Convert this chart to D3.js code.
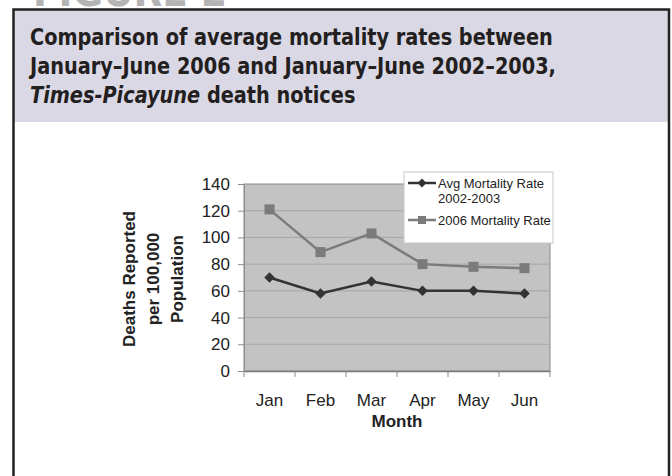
<!DOCTYPE html>
<html lang="en">
<head>
    <meta charset="UTF-8">
    <title>Figure 2: mortality rates</title>
    <script src="https://d3js.org/d3.v7.min.js"></script>
    <style>
        body { margin: 0; background: #fff; }
        text { font-family: "Liberation Sans", Arial, sans-serif; }
        .cond { font-family: "Liberation Sans Narrow", "DejaVu Sans Condensed", "Arial Narrow", sans-serif; }
    </style>
</head>
<body>
    <svg id="chart" width="672" height="476"></svg>
    <script>
        // data
        var months = ["Jan", "Feb", "Mar", "Apr", "May", "Jun"];
        var avgRate = [70, 58, 67, 60, 60, 58];      // Avg Mortality Rate 2002-2003
        var rate2006 = [121, 89, 103, 80, 78, 77];   // 2006 Mortality Rate
        var yTicks = [0, 20, 40, 60, 80, 100, 120, 140];
        var seriesNames = ["Avg Mortality Rate|2002-2003", "2006 Mortality Rate"];

        var svg = d3.select("#chart");
        svg.append("rect").attr("width", 672).attr("height", 476).attr("fill", "#fff");

        // faint "FIGURE 2" cut off at top
        var fig = svg.append("text").attr("class", "cond")
            .attr("x", 33).attr("y", 6)
            .attr("font-size", 40).attr("font-weight", "bold")
            .attr("fill", "#b4b4b4")
            .text("FIGURE 2");
        var fw = fig.node().getComputedTextLength();
        fig.attr("transform", "translate(33,0) scale(" + (194 / fw) + ",1) translate(-33,0)");

        // header panel + frame
        svg.append("rect").attr("x", 14).attr("y", 10).attr("width", 655).attr("height", 112)
            .attr("fill", "#dbd8e5");
        svg.append("path")
            .attr("d", "M13.5,476V9.5H669V476")
            .attr("fill", "none").attr("stroke", "#222").attr("stroke-width", 2.5);

        // title
        var title = svg.append("g").attr("class", "cond");
        var t1 = title.append("text").attr("x", 30).attr("y", 45)
            .attr("font-size", 23).attr("font-weight", "bold").attr("fill", "#231f20")
            .attr("class", "cond")
            .text("Comparison of average mortality rates between");
        title.append("text").attr("x", 30).attr("y", 74)
            .attr("font-size", 23).attr("font-weight", "bold").attr("fill", "#231f20")
            .attr("class", "cond")
            .text("January\u2013June 2006 and January\u2013June 2002\u20132003,");
        var t3 = title.append("text").attr("x", 30).attr("y", 103)
            .attr("font-size", 23).attr("font-weight", "bold").attr("fill", "#231f20")
            .attr("class", "cond");
        t3.append("tspan").attr("font-style", "italic").text("Times-Picayune");
        t3.append("tspan").text(" death notices");
        var tw = t1.node().getComputedTextLength();
        title.attr("transform", "translate(30,0) scale(" + (523 / tw) + ",1) translate(-30,0)");

        // plot
        var x = d3.scaleBand().domain(months).range([244, 550]);
        var y = d3.scaleLinear().domain([0, 140]).range([371, 184]);

        svg.append("rect")
            .attr("x", x.range()[0]).attr("y", y(140))
            .attr("width", x.range()[1] - x.range()[0]).attr("height", y(0) - y(140))
            .attr("fill", "#c3c3c3").attr("stroke", "#8c8c8c").attr("stroke-width", 1);

        svg.append("g").selectAll("line")
            .data(yTicks.filter(d => d > 0 && d < 140))
            .join("line")
            .attr("x1", x.range()[0]).attr("x2", x.range()[1])
            .attr("y1", d => y(d)).attr("y2", d => y(d))
            .attr("stroke", "#a6a6a6").attr("stroke-width", 1);

        // y axis
        var yAxis = svg.append("g")
            .attr("transform", "translate(" + x.range()[0] + ",0)")
            .call(d3.axisLeft(y).tickValues(yTicks).tickSize(6).tickPadding(8));
        yAxis.select(".domain").attr("stroke", "#8c8c8c");
        yAxis.selectAll(".tick line").attr("stroke", "#8c8c8c");
        yAxis.selectAll(".tick text").attr("font-size", 17).attr("fill", "#222")
            .attr("font-family", "'Liberation Sans', Arial, sans-serif");

        // x axis with ticks at category boundaries
        var xAxis = svg.append("g")
            .attr("transform", "translate(0," + y(0) + ")")
            .call(d3.axisBottom(x).tickSize(0).tickPadding(23));
        xAxis.select(".domain").attr("stroke", "#7a7a7a").attr("stroke-width", 1.5);
        xAxis.selectAll(".tick text").attr("font-size", 17).attr("fill", "#222")
            .attr("font-family", "'Liberation Sans', Arial, sans-serif");
        xAxis.selectAll(".bound")
            .data(d3.range(months.length + 1))
            .join("line")
            .attr("x1", i => x.range()[0] + i * x.step()).attr("x2", i => x.range()[0] + i * x.step())
            .attr("y1", 0).attr("y2", 6)
            .attr("stroke", "#8c8c8c");

        // axis titles
        svg.append("text").attr("x", 397).attr("y", 427)
            .attr("text-anchor", "middle").attr("font-size", 17).attr("font-weight", "bold")
            .attr("fill", "#222").text("Month");
        var yTitle = ["Deaths Reported", "per 100,000", "Population"];
        svg.append("g").selectAll("text")
            .data(yTitle)
            .join("text")
            .attr("transform", (d, i) => "translate(" + (135 + i * 24) + ",279) rotate(-90)")
            .attr("text-anchor", "middle").attr("font-size", 17).attr("font-weight", "bold")
            .attr("fill", "#222").text(d => d);

        // series
        var cx = (d, i) => x(months[i]) + x.bandwidth() / 2;
        var line = d3.line().x(cx).y(d => y(d));

        svg.append("path").datum(rate2006).attr("d", line)
            .attr("fill", "none").attr("stroke", "#7b7b7b").attr("stroke-width", 2.5);
        svg.append("g").selectAll("rect")
            .data(rate2006).join("rect")
            .attr("x", (d, i) => cx(d, i) - 5).attr("y", d => y(d) - 5)
            .attr("width", 10).attr("height", 10).attr("fill", "#7b7b7b");

        svg.append("path").datum(avgRate).attr("d", line)
            .attr("fill", "none").attr("stroke", "#333").attr("stroke-width", 2.5);
        svg.append("g").selectAll("path")
            .data(avgRate).join("path")
            .attr("transform", (d, i) => "translate(" + cx(d, i) + "," + y(d) + ")")
            .attr("d", d3.symbol(d3.symbolDiamond2, 70))
            .attr("fill", "#333");

        // legend
        var lg = svg.append("g");
        lg.append("rect").attr("x", 404).attr("y", 172).attr("width", 149).attr("height", 71)
            .attr("fill", "#fff").attr("stroke", "#c8c8c8");
        var ly = [183, 220];
        var lcol = ["#333", "#7b7b7b"];
        ly.forEach(function (yy, i) {
            lg.append("line").attr("x1", 408).attr("x2", 436).attr("y1", yy).attr("y2", yy)
                .attr("stroke", lcol[i]).attr("stroke-width", 2.5);
            if (i == 0) {
                lg.append("path").attr("transform", "translate(422," + yy + ")")
                    .attr("d", d3.symbol(d3.symbolDiamond2, 50)).attr("fill", lcol[i]);
            } else {
                lg.append("rect").attr("x", 418).attr("y", yy - 4).attr("width", 8).attr("height", 8)
                    .attr("fill", lcol[i]);
            }
            var parts = seriesNames[i].split("|");
            var tx = lg.append("text").attr("x", 438).attr("y", yy + 5)
                .attr("font-size", 13).attr("fill", "#222");
            parts.forEach(function (p, j) {
                tx.append("tspan").attr("x", 438).attr("dy", j == 0 ? 0 : 15).text(p);
            });
        });
    </script>
</body>
</html>
